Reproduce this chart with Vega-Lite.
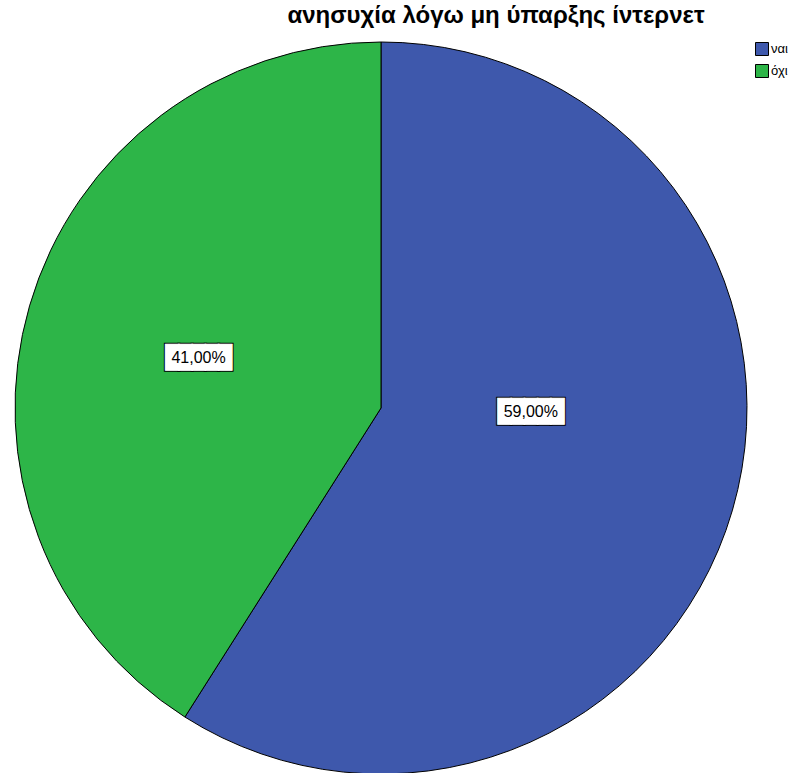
{
  "$schema": "https://vega.github.io/schema/vega-lite/v6.json",
  "width": 732,
  "height": 732,
  "autosize": {"type": "none"},
  "padding": {"left": 15, "top": 42, "right": 56, "bottom": 0},
  "background": "white",
  "view": {"stroke": null},
  "title": {
    "text": "ανησυχία λόγω μη ύπαρξης ίντερνετ",
    "font": "Liberation Sans",
    "fontSize": 24,
    "fontWeight": "bold",
    "color": "black",
    "anchor": "middle",
    "frame": "group",
    "dx": 115,
    "offset": -7,
    "baseline": "alphabetic"
  },
  "data": {
    "values": [
      {"category": "ναι", "value": 59, "label": "59,00%"},
      {"category": "όχι", "value": 41, "label": "41,00%"}
    ]
  },
  "encoding": {
    "theta": {"field": "value", "type": "quantitative", "stack": true},
    "order": {"field": "value", "type": "quantitative", "sort": "descending"}
  },
  "layer": [
    {
      "mark": {"type": "arc", "outerRadius": 366, "stroke": "black", "strokeWidth": 1},
      "encoding": {
        "color": {
          "field": "category",
          "type": "nominal",
          "scale": {"domain": ["ναι", "όχι"], "range": ["#3E58AC", "#2DB548"]},
          "legend": {
            "title": null,
            "orient": "none",
            "legendX": 740,
            "legendY": 0,
            "symbolType": "square",
            "symbolSize": 169,
            "symbolStrokeColor": "black",
            "symbolStrokeWidth": 1,
            "symbolOpacity": 1,
            "labelFont": "Liberation Sans",
            "labelFontSize": 13,
            "labelColor": "black",
            "labelOffset": 2,
            "rowPadding": 4,
            "padding": 0
          }
        }
      }
    },
    {
      "mark": {"type": "text", "radius": 156, "dy": -40, "font": "DejaVu Sans Mono", "fontSize": 22, "baseline": "middle", "fill": "black", "stroke": "black", "strokeWidth": 3},
      "encoding": {"text": {"condition": {"test": "datum.category === 'ναι'", "value": "█████"}, "value": ""}}
    },
    {
      "mark": {"type": "text", "radius": 156, "dy": -40, "font": "DejaVu Sans Mono", "fontSize": 22, "baseline": "middle", "fill": "white", "stroke": "white", "strokeWidth": 1},
      "encoding": {"text": {"condition": {"test": "datum.category === 'ναι'", "value": "█████"}, "value": ""}}
    },
    {
      "mark": {"type": "text", "radius": 156, "dy": -40, "font": "Liberation Sans", "fontSize": 16, "baseline": "middle", "fill": "black"},
      "encoding": {"text": {"condition": {"test": "datum.category === 'ναι'", "field": "label"}, "value": ""}}
    },
    {
      "mark": {"type": "text", "radius": 190, "dy": 3, "font": "DejaVu Sans Mono", "fontSize": 22, "baseline": "middle", "fill": "black", "stroke": "black", "strokeWidth": 3},
      "encoding": {"text": {"condition": {"test": "datum.category === 'όχι'", "value": "█████"}, "value": ""}}
    },
    {
      "mark": {"type": "text", "radius": 190, "dy": 3, "font": "DejaVu Sans Mono", "fontSize": 22, "baseline": "middle", "fill": "white", "stroke": "white", "strokeWidth": 1},
      "encoding": {"text": {"condition": {"test": "datum.category === 'όχι'", "value": "█████"}, "value": ""}}
    },
    {
      "mark": {"type": "text", "radius": 190, "dy": 3, "font": "Liberation Sans", "fontSize": 16, "baseline": "middle", "fill": "black"},
      "encoding": {"text": {"condition": {"test": "datum.category === 'όχι'", "field": "label"}, "value": ""}}
    }
  ]
}
